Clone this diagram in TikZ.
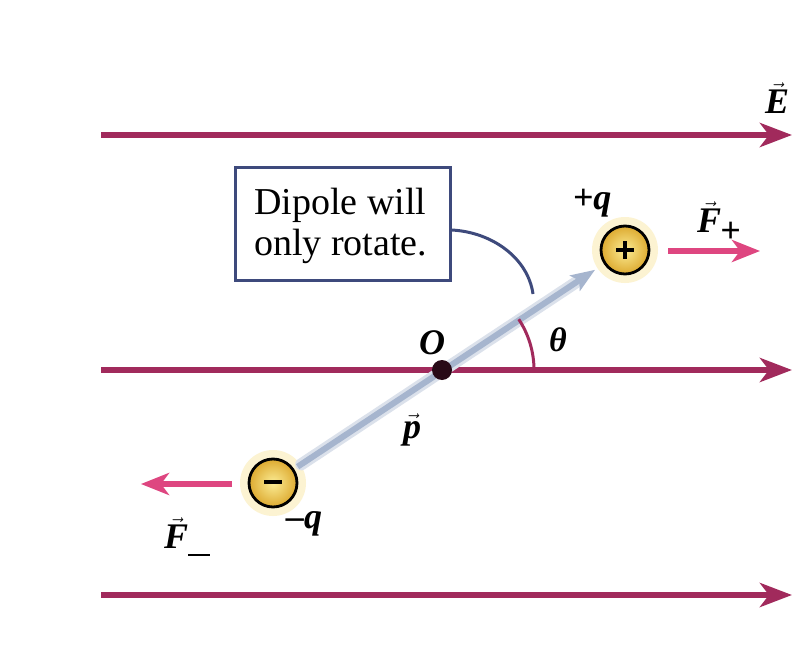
\documentclass[tikz,border=0pt]{standalone}
\usepackage{amsmath}
\usepackage{fontspec}
\setmainfont{Liberation Serif}
\usetikzlibrary{arrows.meta,calc}
\definecolor{fieldc}{HTML}{A12A5C}
\definecolor{forcec}{HTML}{DE4680}
\definecolor{boxc}{HTML}{3E4A7C}
\definecolor{dipc}{HTML}{A6B5CE}
\definecolor{chin}{HTML}{FBEC95}
\definecolor{chout}{HTML}{DDAA30}
\definecolor{glowc}{HTML}{FCF3D2}
\newcommand{\vlab}[1]{$\vec{\mbox{\bfseries\itshape #1}}$}
\tikzset{
  fieldline/.style={fieldc, line width=6.5pt, -{Stealth[length=32pt,width=24pt,inset=9pt]}},
  forcearrow/.style={forcec, line width=6pt, -{Stealth[length=28pt,width=22pt,inset=8pt]}},
  charge/.style={circle, minimum size=48pt, inner sep=0pt, draw=black, line width=2.8pt,
     inner color=chin, outer color=chout},
  sign/.style={black, line width=4pt},
  lab/.style={font=\fontsize{36}{38}\selectfont\bfseries\itshape, inner sep=0pt},
}
\begin{document}
\begin{tikzpicture}[x=1pt,y=-1pt]
\useasboundingbox (0,0) rectangle (811,650);
\fill[white] (0,0) rectangle (811,650);
% field lines
\coordinate (f1a) at (101,135); \coordinate (f1b) at (792,135);
\coordinate (f2a) at (101,370); \coordinate (f2b) at (792,370);
\coordinate (f3a) at (101,595); \coordinate (f3b) at (792,595);
\draw[fieldline] (f1a) -- (f1b);
\draw[fieldline] (f2a) -- (f2b);
\draw[fieldline] (f3a) -- (f3b);
\node[lab] (E) at (777,98) {\vlab{E}};
% charge glows
\fill[glowc] (625,250) circle (33pt);
\fill[glowc] (273,483) circle (33pt);
% dipole vector
\coordinate (O) at (442,370);
\coordinate (pm) at (273,483);
\coordinate (pp) at (625,250);
\draw[white!60!dipc, line width=12pt, line cap=round] ($(pm)!0.08!(pp)$) -- ($(pm)!0.86!(pp)$);
\draw[dipc, line width=6pt, -{Stealth[length=24pt,width=18pt,inset=5pt]}] ($(pm)!0.07!(pp)$) -- ($(pm)!0.915!(pp)$) coordinate (ptip);
% charges
\node[charge] (qp) at (pp) {};
\draw[sign] ($(qp)+(-9,0)$) -- ($(qp)+(9,0)$);
\draw[sign] ($(qp)+(0,-9)$) -- ($(qp)+(0,9)$);
\node[charge] (qm) at (pm) {};
\draw[sign] ($(qm)+(-9,-1)$) -- ($(qm)+(9,-1)$);
\fill[black!75!fieldc] (O) circle (10pt);
\node[lab] (Olab) at (432,343) {O};
% angle arc
\draw[fieldc, line width=3pt] (O) ++(0:92) arc[start angle=0, end angle=-33.5, radius=92];
\node[lab, font=\fontsize{34}{34}\selectfont\itshape\bfseries] (th) at (558,340) {θ};
% labels
\node[lab] (pq) at (592,203) {+q};
\node[lab] (mq) at (304,524) {\textendash q};
\node[lab] (pl) at (412,430) {\vlab{p}};
% forces
\coordinate (fp1) at (668,251); \coordinate (fp2) at (760,251);
\draw[forcearrow] (fp1) -- (fp2);
\node[lab, anchor=base west] (Fp) at (697,232) {\vlab{F}\kern-1pt\raisebox{-10pt}{\textbf{+}}};
\coordinate (fm1) at (232,484); \coordinate (fm2) at (141,484);
\draw[forcearrow] (fm1) -- (fm2);
\node[lab, anchor=base west] (Fm) at (164,548) {\vlab{F}\raisebox{-8pt}{\rule{22pt}{2pt}}};
% box
\node[draw=boxc, line width=3pt, inner sep=0pt, minimum width=215pt, minimum height=113pt] (box) at (342.5,223.5) {};
\node[anchor=west, align=left, inner sep=0pt, font=\fontsize{38}{41}\selectfont] (boxtext) at (254,226)
  {Dipole will\\only rotate.};
\coordinate (cend) at (533,294);
\draw[boxc, line width=3pt] (box.east |- 0,230) coordinate (cs) .. controls (492,232) and (528,258) .. (cend);
\end{tikzpicture}
\end{document}
